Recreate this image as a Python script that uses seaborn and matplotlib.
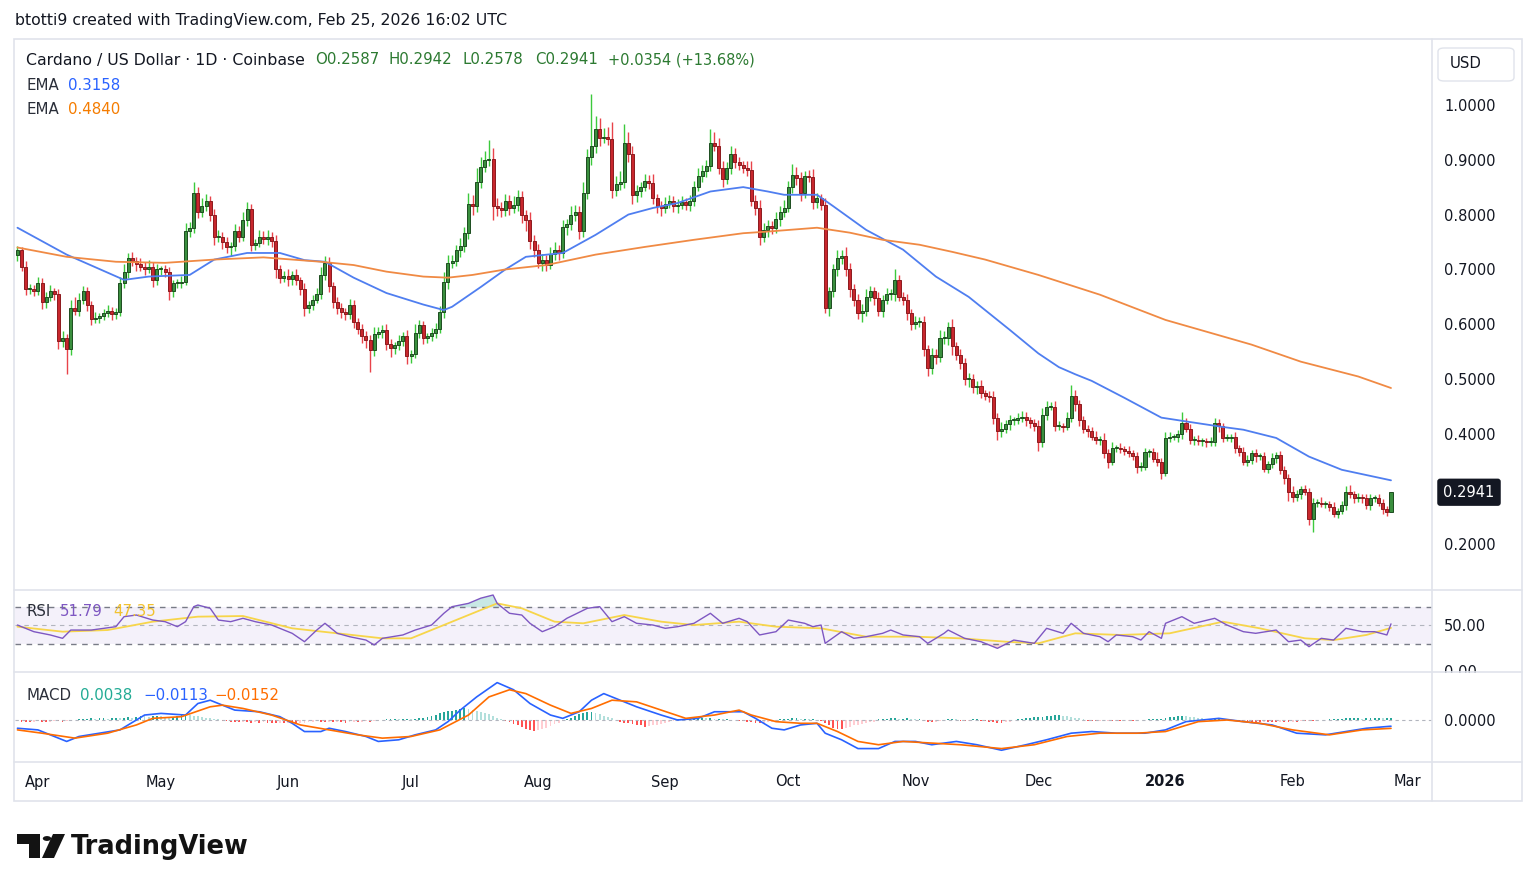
"""
Cardano / US Dollar 1D chart in TradingView style
candles + EMA, RSI and MACD panes
"""

import numpy as np
import pandas as pd
import matplotlib
matplotlib.use("Agg")
import matplotlib.pyplot as plt
import matplotlib.dates as mdates
import seaborn as sns
from matplotlib.patches import Rectangle, FancyBboxPatch, Polygon, Circle
from matplotlib.lines import Line2D

# ---------------------------------------------------------------- data
START = "2025-03-27"
FIRST_OPEN = 0.726

# daily closes
close = [
    0.735, 0.705, 0.665, 0.665, 0.660, 0.675, 0.640, 0.650, 0.660, 0.655,
    0.570, 0.575, 0.555, 0.630, 0.625, 0.645, 0.660, 0.635, 0.610, 0.612,
    0.615, 0.620, 0.625, 0.618, 0.622, 0.675, 0.695, 0.720, 0.715, 0.710,
    0.705, 0.700, 0.705, 0.680, 0.700, 0.700, 0.695, 0.660, 0.675, 0.675,
    0.678, 0.770, 0.775, 0.840, 0.805, 0.815, 0.825, 0.800, 0.760, 0.760,
    0.750, 0.740, 0.742, 0.770, 0.760, 0.790, 0.810, 0.745, 0.748, 0.760,
    0.755, 0.760, 0.752, 0.700, 0.685, 0.688, 0.682, 0.690, 0.680, 0.665,
    0.630, 0.635, 0.645, 0.655, 0.690, 0.712, 0.670, 0.640, 0.630, 0.622,
    0.618, 0.635, 0.605, 0.592, 0.578, 0.572, 0.553, 0.583, 0.586, 0.590,
    0.565, 0.556, 0.562, 0.570, 0.578, 0.542, 0.546, 0.585, 0.598, 0.576,
    0.578, 0.585, 0.592, 0.622, 0.677, 0.712, 0.715, 0.735, 0.742, 0.767,
    0.820, 0.815, 0.860, 0.887, 0.900, 0.902, 0.815, 0.812, 0.808, 0.825,
    0.812, 0.818, 0.832, 0.800, 0.790, 0.752, 0.735, 0.712, 0.718, 0.708,
    0.728, 0.735, 0.730, 0.778, 0.782, 0.800, 0.805, 0.770, 0.840, 0.905,
    0.925, 0.955, 0.940, 0.942, 0.938, 0.845, 0.855, 0.860, 0.930, 0.910,
    0.835, 0.842, 0.850, 0.862, 0.858, 0.830, 0.815, 0.812, 0.820, 0.825,
    0.815, 0.818, 0.822, 0.818, 0.825, 0.850, 0.870, 0.880, 0.888, 0.930,
    0.925, 0.885, 0.865, 0.885, 0.910, 0.895, 0.890, 0.885, 0.882, 0.825,
    0.812, 0.760, 0.772, 0.780, 0.775, 0.792, 0.805, 0.812, 0.850, 0.872,
    0.866, 0.840, 0.870, 0.868, 0.822, 0.830, 0.818, 0.630, 0.660, 0.700,
    0.720, 0.725, 0.700, 0.665, 0.645, 0.620, 0.625, 0.650, 0.660, 0.648,
    0.625, 0.645, 0.655, 0.655, 0.680, 0.650, 0.645, 0.620, 0.600, 0.605,
    0.605, 0.555, 0.520, 0.545, 0.540, 0.575, 0.575, 0.595, 0.560, 0.545,
    0.530, 0.500, 0.500, 0.485, 0.488, 0.475, 0.470, 0.468, 0.430, 0.405,
    0.410, 0.418, 0.425, 0.425, 0.430, 0.432, 0.425, 0.420, 0.415, 0.385,
    0.435, 0.450, 0.450, 0.415, 0.415, 0.413, 0.430, 0.470, 0.455, 0.425,
    0.410, 0.405, 0.395, 0.390, 0.390, 0.365, 0.350, 0.375, 0.375, 0.372,
    0.370, 0.365, 0.360, 0.340, 0.340, 0.367, 0.367, 0.355, 0.350, 0.330,
    0.393, 0.395, 0.395, 0.400, 0.420, 0.410, 0.390, 0.390, 0.387, 0.387,
    0.385, 0.386, 0.420, 0.414, 0.393, 0.393, 0.395, 0.375, 0.368, 0.350,
    0.352, 0.365, 0.360, 0.360, 0.337, 0.345, 0.357, 0.362, 0.335, 0.320,
    0.295, 0.285, 0.290, 0.300, 0.295, 0.245, 0.275, 0.275, 0.273, 0.273,
    0.268, 0.255, 0.260, 0.270, 0.295, 0.290, 0.283, 0.285, 0.283, 0.270,
    0.283, 0.283, 0.275, 0.263, 0.2587, 0.2941,
]

# upper / lower wick length above / below the body (0.001 USD)
wick_up = [
    8, 6, 10, 8, 6, 12, 10, 8, 12, 6,
    10, 12, 8, 15, 20, 12, 10, 8, 8, 10,
    6, 8, 10, 6, 8, 12, 15, 10, 12, 8,
    10, 8, 12, 8, 10, 6, 8, 10, 6, 8,
    10, 15, 12, 20, 10, 15, 12, 8, 10, 12,
    8, 10, 8, 12, 10, 15, 12, 10, 8, 12,
    10, 12, 8, 10, 8, 10, 12, 8, 10, 6,
    10, 8, 8, 12, 15, 12, 10, 8, 10, 8,
    8, 12, 10, 6, 8, 10, 8, 12, 10, 8,
    10, 8, 6, 10, 8, 12, 8, 15, 10, 8,
    6, 8, 10, 12, 18, 15, 12, 10, 15, 10,
    20, 15, 25, 18, 15, 33, 20, 15, 10, 12,
    10, 15, 12, 10, 8, 15, 10, 12, 10, 8,
    12, 15, 10, 12, 10, 15, 12, 10, 20, 15,
    95, 25, 20, 15, 18, 30, 15, 20, 35, 20,
    15, 12, 10, 12, 10, 15, 8, 10, 12, 10,
    8, 10, 12, 8, 10, 12, 15, 10, 12, 25,
    20, 15, 12, 10, 15, 12, 10, 8, 12, 15,
    10, 15, 12, 10, 8, 12, 10, 15, 12, 20,
    15, 12, 10, 12, 15, 10, 8, 12, 8, 10,
    15, 10, 15, 12, 8, 10, 12, 15, 10, 8,
    10, 8, 12, 10, 20, 10, 8, 10, 8, 10,
    8, 10, 8, 12, 10, 15, 12, 10, 15, 8,
    10, 8, 12, 10, 8, 10, 6, 8, 10, 8,
    12, 8, 10, 6, 8, 10, 8, 6, 8, 10,
    12, 10, 8, 10, 8, 6, 10, 20, 10, 8,
    8, 6, 8, 10, 6, 12, 8, 10, 6, 8,
    6, 8, 6, 8, 10, 8, 6, 8, 12, 6,
    10, 8, 6, 8, 20, 10, 8, 6, 8, 6,
    6, 8, 10, 8, 6, 8, 6, 8, 6, 8,
    10, 6, 8, 6, 8, 6, 8, 6, 8, 6,
    8, 10, 8, 6, 8, 6, 8, 6, 10, 6,
    6, 8, 6, 8, 10, 12, 6, 8, 6, 8,
    8, 6, 8, 6, 6, 0,
]
wick_dn = [
    10, 8, 12, 10, 8, 6, 12, 10, 8, 10,
    15, 12, 45, 10, 8, 10, 8, 10, 12, 8,
    10, 8, 6, 10, 8, 6, 8, 10, 8, 12,
    8, 10, 6, 12, 8, 10, 8, 15, 10, 8,
    8, 6, 10, 8, 12, 10, 8, 12, 15, 10,
    12, 10, 15, 8, 10, 8, 10, 12, 10, 8,
    8, 10, 12, 15, 10, 8, 12, 10, 8, 12,
    15, 10, 8, 6, 8, 10, 12, 10, 12, 10,
    10, 8, 12, 10, 12, 15, 40, 10, 8, 10,
    12, 15, 10, 8, 10, 15, 12, 8, 10, 12,
    10, 8, 10, 8, 10, 12, 10, 8, 12, 10,
    12, 15, 10, 12, 10, 12, 25, 15, 12, 10,
    12, 10, 12, 15, 20, 15, 12, 10, 15, 10,
    8, 10, 12, 10, 15, 10, 12, 15, 10, 12,
    15, 12, 15, 10, 12, 15, 12, 10, 12, 15,
    15, 12, 10, 8, 12, 10, 12, 15, 10, 8,
    10, 12, 8, 10, 12, 10, 8, 10, 12, 8,
    10, 12, 15, 10, 12, 10, 8, 10, 12, 10,
    12, 15, 10, 12, 10, 8, 12, 10, 8, 10,
    12, 15, 10, 8, 12, 10, 10, 10, 15, 10,
    12, 10, 12, 15, 12, 10, 15, 10, 8, 12,
    10, 12, 8, 10, 12, 8, 10, 12, 10, 8,
    10, 12, 15, 10, 12, 8, 10, 12, 15, 10,
    12, 10, 15, 10, 12, 10, 8, 10, 12, 15,
    10, 8, 10, 8, 6, 8, 10, 8, 10, 15,
    8, 10, 6, 10, 8, 10, 6, 8, 12, 10,
    8, 10, 6, 8, 10, 8, 12, 6, 8, 6,
    8, 6, 8, 10, 8, 6, 8, 6, 8, 12,
    6, 8, 6, 10, 8, 6, 8, 10, 6, 8,
    8, 6, 8, 10, 8, 6, 8, 10, 8, 6,
    8, 6, 10, 8, 6, 8, 6, 10, 8, 10,
    17, 8, 6, 8, 6, 10, 23, 8, 6, 8,
    8, 6, 8, 6, 8, 6, 8, 6, 8, 6,
    8, 6, 6, 8, 8, 1,
]

# MACD histogram, daily (0.001)
macd_hist = [
    -2, -3, -3, -4, -3, -2, -3, -4, -3, -2,
    -2, -3, -2, -1, 0.5, 1, 2, 2, 3, 2,
    3, 3, 2, 3, 4, 3, 4, 5, 4, 6,
    8, 7, 6, 7, 8, 7, 6, 5, 6, 7,
    9, 10, 9, 8, 7, 5, 4, 3, 2, 1,
    -1, -2, -3, -3, -4, -3, -4, -5, -4, -5,
    -4, -5, -5, -6, -5, -6, -5, -6, -7, -6,
    -5, -4, -3, -2, -3, -4, -3, -4, -3, -4,
    -5, -4, -3, -4, -3, -2, -3, -2, -1, 0.5,
    1, 1, 2, 1, 2, 2, 1, 2, 3, 3,
    5, 7, 9, 12, 14, 16, 17, 19, 20, 21,
    20, 19, 17, 15, 13, 10, 7, 4, 1, -1,
    -4, -7, -10, -13, -16, -18, -20, -19, -17, -14,
    -11, -8, -5, -2, 1, 4, 7, 10, 12, 14,
    14, 12, 10, 8, 6, 3, 0.5, -3, -5, -6,
    -8, -9, -10, -12, -11, -10, -9, -8, -6, -4,
    -2, 1, 1, 2, 2, 3, 3, 4, 3, 3,
    2, 2, 1, 1, 0.5, -0.5, -1, -2, -3, -4,
    -5, -6, -5, -4, -3, -2, 1, 2, 2, 3,
    3, 2, 2, 1, 1, 0.5, -1, -6, -10, -14,
    -16, -16, -14, -12, -10, -9, -8, -6, -4, -3,
    1, 2, 2, 3, 3, 2, 2, 3, 2, 1,
    1, -2, -3, -4, -3, -2, -1, 1, 2, 1,
    -1, -2, -1, 1, 1, -1, -2, -3, -4, -5,
    -5, -4, -3, 0.5, 1, 2, 3, 4, 5, 6,
    6, 7, 8, 9, 9, 8, 7, 6, 4, 3,
    1, -1, -1, -2, -1, -2, -1, -2, -1, -1,
    -2, -1, -1, -1, -0.5, 0.5, 1, 1, 1, 2,
    4, 5, 6, 7, 8, 7, 6, 5, 4, 3,
    2, 1, 1, 1, 0.5, 0.5, -0.5, -1, -2, -2,
    -3, -3, -3, -4, -3, -3, -4, -4, -3, -3,
    -4, -3, -3, -2, -2, -1, -1, -1, -0.5, 0.5,
    1, 1, 2, 2, 3, 3, 3, 3, 2, 3,
    3, 3, 4, 3, 3, 3.8,
]

# EMA lines (day offset from START, value)
ema_fast_day = [0, 12, 26, 32, 42, 48, 56, 64, 70, 75, 82, 90, 99, 104, 106, 113, 119,
                124, 133, 141, 149, 155, 161, 169, 177, 183, 187, 195, 199, 207, 216,
                224, 232, 236, 242, 249, 254, 258, 262, 270, 279, 286, 294, 299, 307,
                315, 323, 335]
ema_fast_val = [0.776, 0.727, 0.681, 0.687, 0.690, 0.718, 0.730, 0.730, 0.717, 0.714,
                0.685, 0.657, 0.636, 0.626, 0.632, 0.668, 0.700, 0.723, 0.730, 0.763,
                0.800, 0.812, 0.821, 0.842, 0.850, 0.842, 0.836, 0.836, 0.815, 0.772,
                0.736, 0.687, 0.650, 0.626, 0.590, 0.547, 0.522, 0.509, 0.497, 0.466,
                0.430, 0.422, 0.413, 0.408, 0.393, 0.359, 0.335, 0.3158]
ema_slow_day = [0, 12, 24, 36, 48, 60, 74, 82, 90, 99, 105, 111, 119, 129, 141, 153,
                165, 177, 183, 195, 203, 211, 220, 228, 236, 249, 264, 280, 301, 313,
                327, 335]
ema_slow_val = [0.740, 0.723, 0.714, 0.712, 0.718, 0.722, 0.714, 0.708, 0.696, 0.687,
                0.685, 0.690, 0.700, 0.708, 0.727, 0.741, 0.754, 0.766, 0.769, 0.776,
                0.767, 0.754, 0.745, 0.732, 0.718, 0.690, 0.654, 0.608, 0.563, 0.532,
                0.505, 0.4840]

# RSI(14) and its moving average
rsi_day = [0, 4, 8, 11, 13, 18, 24, 26, 29, 33, 36, 39, 41, 43, 44, 47, 49, 52, 55, 58,
           62, 67, 70, 73, 75, 78, 81, 85, 87, 89, 94, 97, 101, 104, 106, 110, 113, 116,
           117, 120, 123, 125, 128, 131, 134, 139, 142, 145, 148, 151, 155, 158, 161,
           165, 169, 172, 176, 178, 181, 185, 188, 192, 194, 196, 197, 201, 204, 207,
           211, 213, 216, 220, 222, 226, 227, 231, 235, 239, 243, 248, 251, 255, 257,
           260, 264, 266, 268, 272, 274, 276, 279, 280, 284, 287, 292, 295, 299, 302,
           307, 310, 313, 315, 318, 321, 324, 328, 331, 334, 335]
rsi_val = [50.5, 43.2, 39.6, 35.9, 45.0, 45.0, 48.7, 59.7, 61.5, 56.0, 54.2, 48.7, 54.2,
           70.7, 72.5, 68.9, 56.0, 54.2, 57.9, 54.2, 50.5, 41.4, 32.2, 45.0, 52.4, 41.4,
           37.7, 34.0, 28.6, 35.9, 39.6, 45.0, 50.5, 63.4, 70.7, 74.3, 80.0, 83.5, 74.3,
           63.4, 61.5, 52.4, 43.2, 48.7, 57.9, 68.9, 70.7, 54.2, 59.7, 52.4, 50.5, 46.9,
           48.7, 52.4, 63.4, 52.4, 57.9, 54.2, 39.6, 43.2, 56.0, 52.4, 48.7, 50.5, 30.4,
           43.2, 35.9, 37.7, 41.4, 45.0, 39.6, 37.7, 30.4, 41.4, 45.0, 35.9, 32.2, 24.9,
           34.0, 30.4, 46.9, 41.4, 52.4, 41.4, 37.7, 32.2, 39.6, 37.7, 34.0, 43.2, 35.9,
           52.4, 59.7, 52.4, 57.9, 50.5, 43.2, 41.4, 45.0, 32.2, 34.0, 26.7, 35.9, 34.0,
           46.9, 43.2, 43.2, 39.6, 51.79]
rsi_ma_day = [0, 11, 22, 33, 44, 55, 67, 78, 89, 96, 106, 117, 123, 131, 138, 148, 157,
              165, 176, 185, 196, 207, 219, 230, 241, 249, 258, 269, 281, 294, 303, 314,
              321, 329, 335]
rsi_ma_val = [48.7, 43.2, 45.0, 54.2, 59.7, 60.4, 46.9, 41.4, 35.9, 35.9, 54.2, 74.3,
              68.9, 54.2, 52.4, 61.5, 54.2, 50.5, 54.2, 48.7, 46.9, 37.7, 37.7, 35.9,
              32.2, 30.4, 41.4, 39.6, 41.4, 54.2, 46.9, 35.9, 34.0, 39.6, 47.35]

# MACD line and signal line
macd_day = [0, 5, 8, 12, 15, 20, 25, 29, 31, 35, 41, 44, 47, 49, 53, 59, 64, 67, 70, 74,
            76, 80, 85, 88, 93, 97, 102, 105, 108, 112, 117, 121, 125, 130, 133, 137,
            140, 143, 147, 151, 157, 161, 166, 170, 174, 177, 180, 184, 187, 191, 195,
            197, 201, 205, 210, 214, 219, 223, 229, 234, 240, 246, 251, 257, 262, 268,
            275, 280, 285, 293, 299, 306, 312, 319, 324, 329, 335]
macd_val = [-0.015, -0.018, -0.027, -0.039, -0.030, -0.024, -0.018, 0.000, 0.009, 0.012,
            0.009, 0.030, 0.036, 0.030, 0.018, 0.015, 0.006, -0.006, -0.021, -0.021,
            -0.015, -0.021, -0.030, -0.039, -0.036, -0.027, -0.018, -0.003, 0.018, 0.042,
            0.068, 0.055, 0.030, 0.009, 0.003, 0.015, 0.036, 0.048, 0.036, 0.024, 0.009,
            0.000, 0.003, 0.015, 0.015, 0.015, 0.003, -0.015, -0.018, -0.009, -0.006,
            -0.024, -0.036, -0.052, -0.052, -0.039, -0.039, -0.045, -0.039, -0.045,
            -0.055, -0.045, -0.036, -0.024, -0.021, -0.024, -0.024, -0.018, -0.003,
            0.003, -0.003, -0.009, -0.024, -0.027, -0.021, -0.015, -0.0113]
signal_day = [0, 6, 14, 22, 29, 33, 40, 47, 50, 55, 62, 69, 76, 83, 89, 96, 103, 110,
              115, 120, 124, 130, 135, 140, 145, 151, 157, 163, 170, 176, 179, 185, 191,
              195, 200, 205, 210, 216, 223, 230, 240, 248, 256, 264, 273, 280, 288, 295,
              303, 311, 320, 328, 335]
signal_val = [-0.018, -0.024, -0.033, -0.024, -0.009, 0.003, 0.006, 0.024, 0.027, 0.021,
              0.009, -0.009, -0.018, -0.027, -0.033, -0.030, -0.018, 0.009, 0.042, 0.055,
              0.048, 0.027, 0.012, 0.021, 0.036, 0.033, 0.018, 0.003, 0.009, 0.018, 0.009,
              -0.003, -0.006, -0.006, -0.021, -0.039, -0.045, -0.039, -0.042, -0.045,
              -0.052, -0.045, -0.030, -0.024, -0.024, -0.021, -0.003, 0.000, -0.006,
              -0.018, -0.027, -0.018, -0.0152]

month_ticks = ["2025-04-01", "2025-05-01", "2025-06-01", "2025-07-01", "2025-08-01",
               "2025-09-01", "2025-10-01", "2025-11-01", "2025-12-01", "2026-01-01",
               "2026-02-01", "2026-03-01"]
month_labels = ["Apr", "May", "Jun", "Jul", "Aug", "Sep", "Oct", "Nov", "Dec", "2026",
                "Feb", "Mar"]
price_ticks = [0.2, 0.4, 0.5, 0.6, 0.7, 0.8, 0.9, 1.0]

assert len(wick_up) == len(close) == len(wick_dn) == len(macd_hist)

# ---------------------------------------------------------------- style
sns.set_theme(style="white")
plt.rcParams['font.family'] = ['DejaVu Sans']
plt.rcParams['axes.unicode_minus'] = False

TEXT = '#131722'
GRID = '#e0e3eb'
UP_BODY, UP_EDGE, UP_WICK = '#3a8f3e', '#1d4d20', '#3cc93c'
DN_BODY, DN_EDGE, DN_WICK = '#c8272d', '#8c1a1e', '#e8434a'
BLUE, ORANGE = '#2962ff', '#f57c00'
EMA_BLUE, EMA_ORANGE = '#4f7ef0', '#f08a44'
RSI_C, RSI_MA_C = '#7e57c2', '#f7d54a'

W, H = 1536, 890


def fx(x):
    return x / W


def fy(y):
    return 1 - y / H


# ---------------------------------------------------------------- frame
fig = plt.figure(figsize=(W / 100, H / 100), dpi=100)
fig.patch.set_facecolor('white')

L, R = 15, 1432
ax_p = fig.add_axes([fx(L), fy(590), fx(R) - fx(L), (590 - 40) / H])
ax_r = fig.add_axes([fx(L), fy(672), fx(R) - fx(L), (672 - 590) / H], sharex=ax_p)
ax_m = fig.add_axes([fx(L), fy(762), fx(R) - fx(L), (762 - 672) / H], sharex=ax_p)

t0 = mdates.date2num(pd.Timestamp(START))
n = len(close)
xs = t0 + np.arange(n)

# ---------------------------------------------------------------- candles
c = np.array(close)
o = np.r_[FIRST_OPEN, c[:-1]]
hi = np.maximum(o, c) + np.array(wick_up) / 1000
lo = np.minimum(o, c) - np.array(wick_dn) / 1000
df = pd.DataFrame({'x': xs, 'open': o, 'close': c, 'high': hi, 'low': lo})
up = df['close'] >= df['open']

ax_p.vlines(df['x'], df['low'], df['high'],
            colors=np.where(up, UP_WICK, DN_WICK), linewidth=1.0, zorder=2)
body = np.maximum((df['close'] - df['open']).abs(), 0.0018)
ax_p.bar(df['x'], body, bottom=np.minimum(df['open'], df['close']), width=0.74,
         color=np.where(up, UP_BODY, DN_BODY), edgecolor=np.where(up, UP_EDGE, DN_EDGE),
         linewidth=0.7, zorder=3)

sns.lineplot(x=t0 + np.array(ema_fast_day), y=ema_fast_val, ax=ax_p, color=EMA_BLUE,
             linewidth=1.3, legend=False, zorder=4)
sns.lineplot(x=t0 + np.array(ema_slow_day), y=ema_slow_val, ax=ax_p, color=EMA_ORANGE,
             linewidth=1.3, legend=False, zorder=4)

ax_p.set_ylim(0.116, 1.118)
ax_p.set_xlim(t0 - 0.6, t0 + 345)

# ---------------------------------------------------------------- RSI
rx = t0 + np.array(rsi_day)
rv = np.array(rsi_val)
ax_r.axhspan(30, 70, color=RSI_C, alpha=0.08, lw=0)
ax_r.axhline(70, color='#787b86', ls=(0, (4, 4)), lw=1.0)
ax_r.axhline(30, color='#787b86', ls=(0, (4, 4)), lw=1.0)
ax_r.axhline(50, color='#b2b5be', ls=(0, (4, 4)), lw=0.8)
ax_r.fill_between(rx, rv, 70, where=rv > 70, interpolate=True, color='#26a69a',
                  alpha=0.25, lw=0)
ax_r.fill_between(rx, rv, 30, where=rv < 30, interpolate=True, color='#f23645',
                  alpha=0.2, lw=0)
sns.lineplot(x=t0 + np.array(rsi_ma_day), y=rsi_ma_val, ax=ax_r, color=RSI_MA_C,
             linewidth=1.3, legend=False)
sns.lineplot(x=rx, y=rv, ax=ax_r, color=RSI_C, linewidth=1.0, legend=False)
ax_r.set_ylim(-1.1, 89)

# ---------------------------------------------------------------- MACD
h = np.array(macd_hist) / 1000
prev = np.r_[h[0], h[:-1]]
hist_colors = np.where(h >= 0, np.where(h >= prev, '#26a69a', '#b2dfdb'),
                       np.where(h <= prev, '#ff5252', '#ffcdd2'))
ax_m.bar(xs, h, width=0.45, color=hist_colors, lw=0)
ax_m.axhline(0, color='#b2b5be', ls=(0, (3, 3)), lw=0.8)
sns.lineplot(x=t0 + np.array(macd_day), y=macd_val, ax=ax_m, color=BLUE,
             linewidth=1.2, legend=False)
sns.lineplot(x=t0 + np.array(signal_day), y=signal_val, ax=ax_m, color='#ff6d00',
             linewidth=1.2, legend=False)
ax_m.set_ylim(-0.0764, 0.0873)

# ---------------------------------------------------------------- axes styling
for ax in (ax_p, ax_r, ax_m):
    ax.set_facecolor('none')
    for s in ax.spines.values():
        s.set_visible(False)
    ax.set_xlabel('')
    ax.set_ylabel('')
    ax.yaxis.tick_right()
    ax.tick_params(axis='y', length=0, pad=8.6, labelsize=10.5, labelcolor=TEXT)
    ax.tick_params(axis='x', length=0, labelbottom=False)
    ax.grid(False)

ax_p.set_yticks(price_ticks)
ax_p.set_yticklabels([f"{v:.4f}" for v in price_ticks])
ax_r.set_yticks([50, 0])
ax_r.set_yticklabels(["50.00", "0.00"])
ax_m.set_yticks([0])
ax_m.set_yticklabels(["0.0000"])

ax_m.set_xticks([mdates.date2num(pd.Timestamp(d)) for d in month_ticks])
ax_m.set_xticklabels(month_labels)
ax_m.tick_params(axis='x', labelbottom=True, pad=9, labelsize=10.5, labelcolor=TEXT)
for lab in ax_m.get_xticklabels():
    if lab.get_text() == "2026":
        lab.set_fontweight('bold')

# current price tag
ax_p.text(1 + 37 / (R - L), close[-1], f"{close[-1]:.4f}", transform=ax_p.get_yaxis_transform(),
          ha='center', va='center', fontsize=10.5, color='white', zorder=10,
          bbox=dict(boxstyle='round,pad=0.42,rounding_size=0.2', fc=TEXT, ec='none'))

# the RSI "0.00" label is cut by the pane below it
fig.add_artist(Rectangle((fx(1433), fy(690)), fx(1521) - fx(1433), (690 - 672.5) / H,
                         transform=fig.transFigure, fc='white', ec='none', zorder=5))

# pane separators and outer frame
for y in (590, 672, 762):
    fig.add_artist(Line2D([fx(14), fx(1522)], [fy(y), fy(y)], transform=fig.transFigure,
                          color=GRID, lw=1.2, zorder=6))
fig.add_artist(Line2D([fx(1432), fx(1432)], [fy(39), fy(801)], transform=fig.transFigure,
                      color=GRID, lw=1.2, zorder=6))
fig.add_artist(Rectangle((fx(14), fy(801)), fx(1522) - fx(14), (801 - 39) / H,
                         transform=fig.transFigure, fill=False, ec=GRID, lw=1.2, zorder=6))
fig.add_artist(FancyBboxPatch((fx(1438), fy(81)), fx(1514) - fx(1438), (81 - 48) / H,
                              boxstyle='round,pad=0,rounding_size=0.004',
                              transform=fig.transFigure, fc='white', ec=GRID, lw=1.0))
fig.text(fx(1466), fy(64), "USD", ha='center', va='center', fontsize=10.8, color=TEXT)


# ---------------------------------------------------------------- legends
def label(x, y, s, color=TEXT, **kw):
    kw.setdefault('fontsize', 10.8)
    fig.text(fx(x), fy(y), s, color=color, ha='left', va='center', **kw)


label(15, 21, "btotti9 created with TradingView.com, Feb 25, 2026 16:02 UTC", fontsize=11.3)

OHLC_C = '#2c7a31'
label(26, 60, "Cardano / US Dollar · 1D · Coinbase", fontsize=11.3)
label(315, 60, "O0.2587", OHLC_C)
label(389, 60, "H0.2942", OHLC_C)
label(463, 60, "L0.2578", OHLC_C)
label(535, 60, "C0.2941", OHLC_C)
label(608, 60, "+0.0354 (+13.68%)", OHLC_C, fontsize=10.5)
label(26, 85, "EMA", '#2a2e39')
label(68, 85, f"{ema_fast_val[-1]:.4f}", BLUE)
label(26, 110, "EMA", '#2a2e39')
label(68, 110, f"{ema_slow_val[-1]:.4f}", ORANGE)

label(26, 612, "RSI", '#2a2e39')
label(60, 612, f"{rsi_val[-1]:.2f}", RSI_C)
label(113, 612, f"{rsi_ma_val[-1]:.2f}", '#f2c230')

label(26, 695, "MACD", '#2a2e39')
label(80, 695, f"{macd_hist[-1] / 1000:.4f}", '#22ab94')
label(143, 695, f"\u2212{abs(macd_val[-1]):.4f}", BLUE)
label(214, 695, f"\u2212{abs(signal_val[-1]):.4f}", '#ff6d00')

# TradingView logo
logo_t = Polygon([(fx(17), fy(834)), (fx(40), fy(834)), (fx(40), fy(858)), (fx(29), fy(858)),
                  (fx(29), fy(844)), (fx(17), fy(844))], closed=True,
                 transform=fig.transFigure, fc='#131313', ec='none')
logo_s = Polygon([(fx(53), fy(834)), (fx(65), fy(834)), (fx(54), fy(858)), (fx(42), fy(858))],
                 closed=True, transform=fig.transFigure, fc='#131313', ec='none')
fig.add_artist(logo_t)
fig.add_artist(logo_s)
fig.add_artist(Circle((fx(47), fy(838.5)), 4.2 / W, transform=fig.transFigure,
                      fc='#131313', ec='none'))
label(71, 847, "TradingView", '#131313', fontsize=18.5, fontweight='bold')

fig.savefig('out.png', dpi=100, facecolor='white')
print("saved out.png")
